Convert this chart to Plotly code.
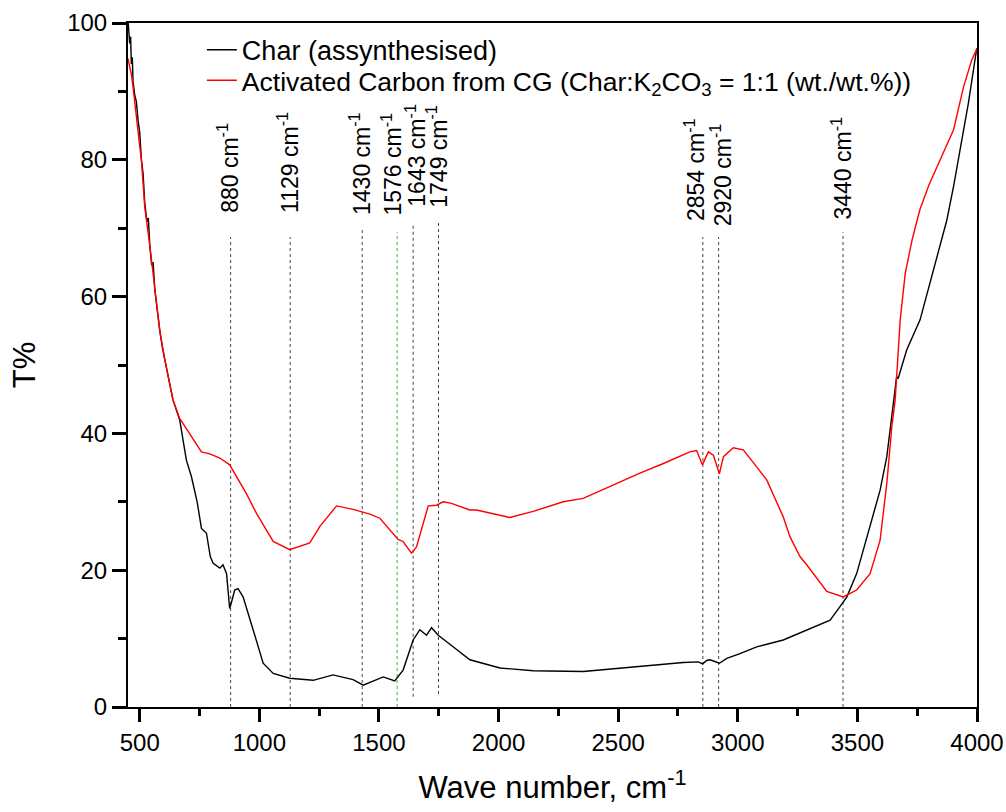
import plotly.graph_objects as go

# ---- data ----
char_x = [451, 458, 462, 465, 469, 472, 479, 486, 493, 500, 507, 514, 521, 530, 536, 542, 550, 556,
          563, 572, 584, 595, 605, 615, 625, 639, 667, 695, 716, 740, 758, 779, 795, 807, 835, 848,
          863, 876, 885, 897, 911, 932, 974, 1016, 1058, 1127, 1225, 1308, 1392, 1434, 1518, 1566,
          1601, 1643, 1671, 1699, 1720, 1748, 1810, 1880, 2006, 2145, 2354, 2563, 2772, 2835, 2853,
          2870, 2884, 2923, 2954, 3009, 3079, 3190, 3260, 3316, 3386, 3428, 3456, 3497, 3553, 3595,
          3623, 3644, 3664, 3670, 3706, 3762, 3818, 3874, 3902, 3930, 3964, 3999]
char_y = [100.5, 97, 98, 94, 95, 91.5, 89.5, 88.5, 85.8, 84, 80, 78, 73.7, 71, 71.5, 67.5, 64.6, 65,
          61, 58, 55, 52.5, 50.7, 49, 47, 44.9, 42, 36.1, 33.7, 30, 26.1, 25.4, 22, 21, 20.3, 20.8,
          19.5, 14.4, 15.5, 17.1, 17.3, 16.1, 11.3, 6.4, 4.9, 4.2, 3.9, 4.7, 4.0, 3.2, 4.4, 3.8,
          5.4, 9.8, 11.3, 10.5, 11.6, 10.5, 8.8, 6.9, 5.7, 5.3, 5.2, 5.9, 6.5, 6.6, 6.3,
          6.8, 6.9, 6.4, 7.1, 7.8, 8.8, 9.8, 10.8, 11.7, 12.7, 14.7, 16.1, 19.5, 26.4, 31.7,
          36.6, 42.4, 48.3, 48.0, 52.2, 56.6, 63.9, 71.2, 76.1, 81.9, 88.3, 96.3]

ac_x = [451, 465, 472, 486, 500, 507, 521, 542, 563, 584, 605, 625, 639, 667, 709, 758, 793, 835,
        876, 946, 988, 1058, 1127, 1211, 1253, 1323, 1392, 1462, 1504, 1580, 1601, 1636, 1657,
        1706, 1741, 1768, 1800, 1880, 1908, 2047, 2145, 2270, 2354, 2494, 2591, 2689, 2800, 2828,
        2852, 2877, 2898, 2923, 2940, 2981, 3023, 3079, 3121, 3190, 3218, 3260, 3288, 3372, 3441,
        3497, 3553, 3595, 3623, 3644, 3658, 3679, 3700, 3730, 3762, 3800, 3846, 3902, 3944, 3978, 3999]
ac_y = [94.8, 92.5, 90.7, 85.8, 82, 80, 73.1, 67.5, 61, 55, 50.7, 47, 44.9, 42.2, 40.0, 37.3, 37.0,
        36.4, 35.4, 31.2, 28.3, 24.2, 23.0, 24.0, 26.4, 29.4, 28.9, 28.2, 27.6, 24.5, 24.2, 22.5,
        23.4, 29.4, 29.5, 30.0, 29.8, 28.8, 28.8, 27.7, 28.6, 30.0, 30.5, 32.7, 34.2, 35.6, 37.3,
        37.5, 35.4, 37.3, 36.8, 34.1, 36.6, 37.9, 37.6, 35.1, 33.2, 27.8, 24.9, 22.0, 20.8, 16.9,
        16.1, 17.1, 19.5, 24.4, 32.7, 41.0, 44.9, 56.6, 63.4, 68.5, 72.8, 76.4, 80.0, 84.4, 90.7, 94.6, 96.2]

peaks = [880, 1129, 1430, 1576, 1643, 1749, 2854, 2920, 3440]
peak_labels = ["880 cm<sup>-1</sup>", "1129 cm<sup>-1</sup>", "1430 cm<sup>-1</sup>",
               "1576 cm<sup>-1</sup>", "1643 cm<sup>-1</sup>", "1749 cm<sup>-1</sup>",
               "2854 cm<sup>-1</sup>", "2920 cm<sup>-1</sup>", "3440 cm<sup>-1</sup>"]

x_ticks = [500, 1000, 1500, 2000, 2500, 3000, 3500, 4000]
y_ticks = [0, 20, 40, 60, 80, 100]

# ---- layout/style for marker lines and labels ----
line_top = [68.7, 68.7, 70.0, 69.4, 70.5, 70.9, 68.7, 68.7, 69.4]
line_bot = [0, 0, 0, 0, 1.5, 1.9, 0, 0, 0]
label_bottom = [71.9, 71.9, 71.6, 71.5, 72.8, 72.7, 70.8, 70.0, 70.9]
label_shift = [-2, -2, -2, -5, 2, -1, -8, 2, -2]
line_colors = ["#444", "#444", "#444", "#3cb043", "#444", "#444", "#444", "#444", "#444"]

FONT = "Arial, Liberation Sans, sans-serif"

fig = go.Figure()

for p, t, b, c in zip(peaks, line_top, line_bot, line_colors):
    fig.add_trace(go.Scatter(x=[p, p], y=[b, t], mode="lines",
                             line=dict(color=c, width=1, dash="dot"),
                             showlegend=False, hoverinfo="skip"))

fig.add_trace(go.Scatter(x=char_x, y=char_y, mode="lines", name="Char (assynthesised)",
                         line=dict(color="black", width=1.4), legend="legend"))
fig.add_trace(go.Scatter(x=ac_x, y=ac_y, mode="lines",
                         name="Activated Carbon from CG (Char:K<sub>2</sub>CO<sub>3</sub> = 1:1 (wt./wt.%))",
                         line=dict(color="red", width=1.4), legend="legend2"))

for p, lab, yb, s in zip(peaks, peak_labels, label_bottom, label_shift):
    fig.add_annotation(x=p, y=yb, text=lab, textangle=-90, showarrow=False,
                       xanchor="center", yanchor="bottom", xshift=s,
                       font=dict(family=FONT, size=23, color="black"))

axis_common = dict(showline=True, linecolor="black", linewidth=2, mirror=True,
                   ticks="outside", tickcolor="black", tickwidth=2.5,
                   showgrid=False, zeroline=False, automargin=False,
                   tickfont=dict(family=FONT, size=24, color="black"))

fig.update_xaxes(range=[451, 4000], tickvals=x_ticks, ticklen=13,
                 minor=dict(dtick=250, tick0=0, ticks="outside", ticklen=7, tickwidth=2.5, tickcolor="black"),
                 title=dict(text="Wave number, cm<sup>-1</sup>", font=dict(family=FONT, size=31, color="black"),
                            standoff=22),
                 **axis_common)
fig.update_yaxes(range=[0, 100], tickvals=y_ticks, ticklen=14,
                 minor=dict(dtick=10, tick0=0, ticks="outside", ticklen=8, tickwidth=2.5, tickcolor="black"),
                 title=dict(text="T%", font=dict(family=FONT, size=31, color="black"), standoff=22),
                 **axis_common)

legend_style = dict(xanchor="left", yanchor="top", bgcolor="rgba(0,0,0,0)", borderwidth=0,
                    itemwidth=30)

fig.update_layout(
    width=1006, height=812,
    margin=dict(l=128, r=29, t=23, b=105, autoexpand=False),
    paper_bgcolor="white", plot_bgcolor="white",
    font=dict(family=FONT, color="black"),
    legend=dict(x=0.087, y=0.996, font=dict(family=FONT, size=27, color="black"), **legend_style),
    legend2=dict(x=0.087, y=0.951, font=dict(family=FONT, size=26.5, color="black"), **legend_style),
    showlegend=True,
)

fig.write_html("out.html")
